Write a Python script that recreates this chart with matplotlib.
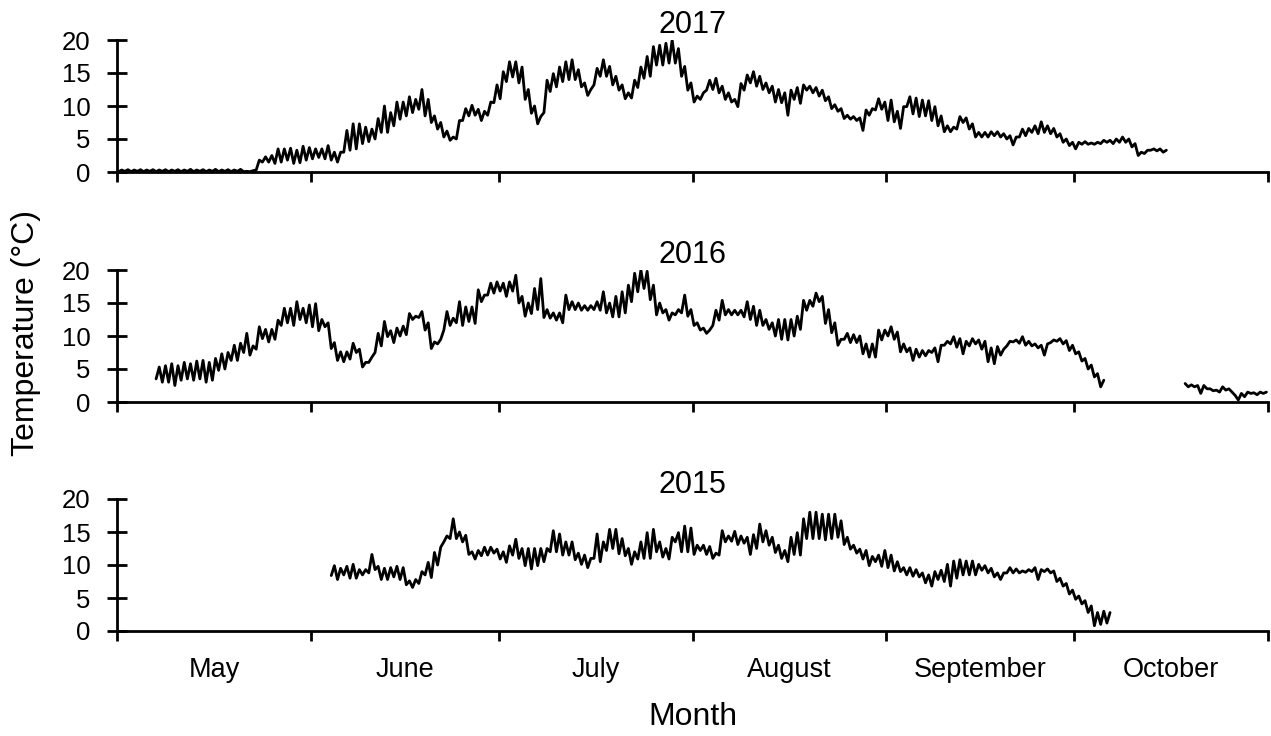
import numpy as np
import matplotlib
matplotlib.use("Agg")
import matplotlib.pyplot as plt

plt.rcParams['font.family'] = ['Liberation Sans', 'DejaVu Sans']

# ---- axis categories ----
months = ["May", "June", "July", "August", "September", "October"]
month_start_days = [0, 31, 61, 92, 123, 153, 184]   # days since 1 May
years = ["2017", "2016", "2015"]
y_ticks = [0, 5, 10, 15, 20]

# ---- daily minimum / maximum temperatures (deg C) ----
# 2017: first day = day 0 (1 May)
t2017_start = 0
t2017_min = [
    0.05, 0.1, 0.05, 0.1, 0.05, 0.1, 0.05, 0.1, 0.05, 0.1,
    0.05, 0.1, 0.05, 0.1, 0.05, 0.1, 0.05, 0.1, 0.05, 0.1,
    0.05, 0.05, 0.3, 1.5, 1.5, 1.3, 1.5, 1.8, 1.3, 1.4,
    1.8, 2.0, 2.2, 2.0, 1.8, 1.5, 3.0, 3.3, 3.5, 4.3,
    4.6, 5.0, 6.0, 6.0, 7.0, 8.0, 8.5, 9.0, 9.5, 8.5,
    7.5, 6.5, 5.3, 4.8, 5.0, 7.8, 8.5, 8.6, 7.8, 8.6,
    10.5, 11.1, 13.7, 14.4, 13.5, 11.0, 8.9, 7.3, 9.0, 12.2,
    12.9, 13.7, 14.0, 14.0, 12.9, 11.6, 13.2, 14.5, 14.5, 13.2,
    12.4, 11.1, 11.2, 12.8, 14.2, 14.5, 16.2, 16.2, 16.5, 16.5,
    14.5, 12.4, 10.6, 11.0, 12.4, 12.5, 12.0, 11.0, 10.6, 9.9,
    12.4, 13.5, 13.0, 12.5, 12.0, 10.6, 10.5, 8.6, 11.0, 10.4,
    12.4, 12.0, 11.5, 10.8, 9.6, 9.2, 8.1, 8.0, 7.8, 6.3,
    8.6, 9.4, 9.5, 7.8, 7.6, 6.6, 9.9, 8.8, 8.4, 8.5,
    7.8, 7.0, 6.1, 6.1, 6.5, 7.5, 6.5, 5.3, 5.3, 5.3,
    5.5, 5.3, 5.0, 4.1, 5.3, 5.5, 6.0, 5.8, 6.0, 5.8,
    5.3, 4.5, 4.0, 3.5, 4.2, 4.2, 4.2, 4.3, 4.5, 4.3,
    4.5, 4.5, 3.8, 2.5, 2.8, 3.3, 3.2, 3.0,
]
t2017_max = [
    0.3, 0.35, 0.3, 0.35, 0.3, 0.35, 0.3, 0.35, 0.3, 0.35,
    0.3, 0.4, 0.3, 0.35, 0.3, 0.4, 0.3, 0.35, 0.3, 0.4,
    0.1, 0.2, 1.8, 2.3, 2.5, 3.5, 3.5, 3.6, 3.3, 3.9,
    3.7, 3.5, 3.5, 4.0, 3.0, 3.0, 6.3, 7.3, 7.3, 6.8,
    6.5, 8.1, 10.0, 9.0, 10.6, 10.6, 11.4, 11.0, 12.5, 11.0,
    8.5, 7.5, 6.2, 5.3, 7.8, 9.6, 10.1, 9.5, 9.2, 10.6,
    13.2, 15.2, 16.7, 16.7, 15.9, 12.5, 10.0, 8.4, 13.9, 14.9,
    15.9, 16.7, 17.0, 15.5, 13.5, 12.5, 15.7, 17.0, 16.0, 14.5,
    13.2, 12.0, 13.9, 15.9, 17.5, 19.0, 19.2, 19.5, 20.0, 18.7,
    16.0, 13.5, 11.5, 12.0, 13.9, 14.2, 13.0, 12.0, 11.0, 13.4,
    14.7, 15.2, 14.5, 13.5, 13.0, 12.5, 12.0, 12.4, 12.8, 13.2,
    13.0, 12.8, 12.4, 11.4, 10.2, 9.6, 8.6, 8.4, 8.2, 9.4,
    9.6, 11.1, 10.6, 10.9, 9.2, 9.9, 11.4, 11.2, 10.9, 10.8,
    9.9, 8.5, 7.0, 6.8, 8.4, 8.2, 7.3, 6.0, 6.0, 6.1,
    6.1, 5.8, 5.5, 5.3, 6.5, 6.6, 7.0, 7.6, 7.0, 6.6,
    5.8, 5.0, 4.5, 4.5, 4.6, 4.4, 4.5, 4.8, 4.8, 5.0,
    5.3, 5.0, 4.3, 3.0, 3.3, 3.5, 3.5, 3.3,
]

# 2016: first day = day 6 (7 May); None = no record
t2016_start = 6
t2016_min = [
    3.5, 3.0, 3.0, 2.5,
    3.3, 3.5, 3.3, 3.5, 3.0, 3.3, 4.8, 5.0, 6.3, 6.3,
    7.5, 7.1, 8.0, 9.6, 9.1, 9.5, 11.6, 12.0, 11.6, 12.5,
    12.0, 11.4, 10.8, 11.4, 8.1, 6.3, 6.1, 6.5, 7.5, 5.3,
    6.0, 7.5, 8.5, 9.9, 9.0, 10.0, 10.2, 12.5, 12.8, 10.9,
    8.1, 8.8, 10.9, 11.6, 12.0, 11.6, 12.2, 11.9, 15.2, 16.2,
    16.5, 16.8, 16.0, 16.8, 15.0, 13.0, 13.4, 14.0, 12.8, 12.7,
    12.4, 12.0, 14.0, 14.0, 13.9, 13.9, 14.0, 13.9, 13.5, 12.9,
    12.9, 13.5, 15.2, 16.7, 17.2, 15.5, 13.2, 13.5, 12.4, 13.2,
    13.5, 13.0, 11.6, 10.9, 10.4, 11.6, 12.4, 13.2, 13.2, 13.2,
    12.9, 12.5, 11.6, 11.6, 11.0, 10.0, 9.5, 9.4, 10.0, 11.0,
    13.9, 14.5, 15.2, 11.9, 10.5, 8.6, 9.5, 9.0, 9.0, 7.3,
    6.8, 6.8, 9.4, 10.0, 9.5, 7.6, 7.6, 6.3, 6.8, 7.0,
    7.5, 6.1, 8.6, 8.8, 8.3, 7.3, 8.5, 8.8, 8.0, 6.1,
    5.8, 7.1, 8.5, 9.1, 8.9, 8.6, 8.5, 8.2, 7.1, 9.0,
    9.2, 8.8, 7.8, 7.3, 6.2, 5.0, 3.8, 2.3, None, None,
    None, None, None, None, None, None, None, None, None, None,
    None, 2.3, 2.3, 1.3, 2.0, 1.7, 1.5, 1.8, 1.5, 0.3,
    0.8, 1.3, 1.1, 1.3,
]
t2016_max = [
    5.3, 5.5, 5.8, 5.5,
    6.0, 5.8, 6.2, 6.3, 6.0, 6.6, 7.3, 7.5, 8.6, 8.9,
    10.4, 8.5, 11.4, 11.0, 11.0, 12.4, 14.2, 14.2, 15.2, 14.2,
    14.7, 14.9, 12.5, 12.0, 9.0, 7.6, 7.6, 8.9, 8.0, 6.0,
    6.8, 10.4, 12.2, 10.8, 11.2, 11.5, 13.4, 13.0, 13.7, 12.0,
    9.1, 9.5, 13.7, 12.7, 15.2, 14.4, 14.4, 17.0, 16.2, 18.0,
    18.2, 18.0, 18.2, 19.2, 16.0, 15.0, 17.2, 18.7, 14.0, 13.5,
    13.5, 16.2, 15.2, 15.0, 14.6, 14.6, 15.2, 16.7, 15.0, 16.0,
    16.7, 17.7, 19.5, 20.0, 19.8, 17.7, 15.0, 14.0, 13.5, 14.0,
    16.2, 14.0, 12.0, 11.2, 10.9, 13.9, 15.4, 14.0, 13.9, 13.9,
    15.2, 14.5, 13.9, 12.5, 12.0, 12.5, 12.5, 12.5, 13.0, 15.4,
    15.4, 16.5, 16.0, 14.0, 12.0, 9.5, 10.4, 10.2, 10.0, 8.8,
    8.8, 10.9, 10.9, 11.4, 10.6, 8.8, 8.2, 8.0, 7.8, 7.8,
    8.2, 8.6, 9.2, 9.9, 9.6, 9.2, 9.6, 9.4, 9.2, 8.2,
    8.4, 8.0, 9.2, 9.4, 9.9, 9.2, 8.8, 8.6, 8.8, 9.4,
    9.6, 9.3, 8.6, 7.6, 6.6, 5.6, 4.3, 3.3, None, None,
    None, None, None, None, None, None, None, None, None, None,
    2.8, 2.6, 2.5, 2.5, 2.0, 1.8, 2.3, 2.0, 1.0, 1.3,
    1.5, 1.4, 1.5, 1.5,
]

# 2015: first day = day 34 (3 June)
t2015_start = 34
t2015_min = [
    8.4, 7.8, 8.5, 8.0, 8.0, 8.5,
    8.8, 9.3, 7.8, 7.8, 8.2, 7.8, 7.0, 6.6, 7.2, 8.5,
    8.1, 10.0, 13.5, 14.0, 14.0, 13.5, 11.6, 10.9, 11.4, 11.5,
    11.8, 10.9, 10.4, 11.5, 11.0, 9.9, 9.4, 9.9, 10.5, 12.0,
    12.0, 11.5, 11.5, 10.8, 10.1, 9.6, 11.0, 10.5, 12.2, 12.5,
    11.7, 11.4, 10.1, 10.9, 11.0, 11.0, 12.0, 11.2, 10.9, 13.5,
    12.0, 12.0, 11.6, 12.2, 11.6, 11.0, 11.5, 13.5, 13.6, 13.1,
    13.3, 11.6, 12.5, 13.5, 13.0, 11.9, 11.0, 10.5, 11.6, 11.5,
    14.0, 14.0, 14.0, 13.8, 14.0, 14.2, 13.1, 12.4, 11.8, 10.9,
    9.9, 10.5, 9.8, 9.6, 9.1, 9.0, 8.5, 8.3, 8.2, 7.3,
    6.8, 7.8, 7.5, 6.8, 8.0, 8.5, 8.5, 8.5, 9.2, 8.8,
    8.2, 7.8, 8.8, 8.8, 8.8, 8.9, 9.0, 7.8, 9.0, 8.8,
    7.5, 6.8, 5.6, 4.8, 4.1, 2.8, 0.8, 1.0, 1.2,
]
t2015_max = [
    9.9, 9.5, 9.8, 10.1, 9.3, 9.3,
    11.6, 9.8, 9.5, 9.6, 9.8, 9.6, 7.6, 7.8, 9.0, 10.4,
    11.9, 12.7, 14.4, 17.0, 15.0, 14.5, 12.0, 12.2, 12.7, 12.7,
    12.4, 12.0, 12.9, 13.9, 12.5, 12.5, 12.5, 12.5, 12.5, 15.2,
    14.7, 13.5, 13.5, 11.8, 11.5, 11.0, 14.7, 13.5, 15.4, 15.4,
    14.0, 12.5, 12.0, 13.5, 14.9, 15.4, 13.5, 12.5, 14.2, 14.9,
    15.9, 15.6, 13.0, 13.0, 12.8, 11.8, 15.2, 14.4, 15.1, 14.4,
    14.2, 14.6, 16.2, 15.2, 14.2, 13.0, 12.2, 14.2, 14.9, 17.0,
    18.0, 18.0, 17.7, 17.7, 17.7, 16.7, 14.2, 13.0, 12.4, 12.2,
    11.3, 11.5, 12.2, 11.5, 10.5, 9.6, 9.6, 9.3, 8.8, 8.5,
    9.0, 9.2, 10.1, 10.6, 10.8, 10.6, 10.6, 10.1, 9.9, 9.5,
    8.8, 8.8, 9.6, 9.4, 9.1, 9.3, 9.6, 9.3, 9.4, 9.1,
    8.0, 7.2, 6.2, 5.3, 4.6, 3.8, 2.8, 3.0, 2.8,
]


def daily_series(start, mins, maxs):
    """Place each day's minimum early in the day and its maximum in the afternoon."""
    t, v = [], []
    for i, (lo, hi) in enumerate(zip(mins, maxs)):
        d = start + i
        t.extend([d + 0.25, d + 0.75])
        v.extend([np.nan if lo is None else lo, np.nan if hi is None else hi])
    return np.array(t), np.array(v, dtype=float)


series = {
    "2017": daily_series(t2017_start, t2017_min, t2017_max),
    "2016": daily_series(t2016_start, t2016_min, t2016_max),
    "2015": daily_series(t2015_start, t2015_min, t2015_max),
}

W, H = 1271, 736
fig = plt.figure(figsize=(W / 100, H / 100), dpi=100)

left = 117 / W
width = (1268 - 117) / W
height = 132 / H
tops_px = [40, 270, 499]

month_mid = [(a + b) / 2 for a, b in zip(month_start_days[:-1], month_start_days[1:])]

for k, (yr, top) in enumerate(zip(years, tops_px)):
    bottom = 1 - (top + 132) / H
    ax = fig.add_axes([left, bottom, width, height])
    t, v = series[yr]
    ax.plot(t, v, color="black", lw=2.0, solid_joinstyle="round",
            solid_capstyle="round")
    ax.set_xlim(month_start_days[0], month_start_days[-1])
    ax.set_ylim(0, 20)
    ax.set_yticks(y_ticks)
    ax.set_xticks(month_start_days)
    ax.set_xticks(month_mid, minor=True)
    ax.spines["top"].set_visible(False)
    ax.spines["right"].set_visible(False)
    for s in ("left", "bottom"):
        ax.spines[s].set_linewidth(2.0)
    ax.tick_params(axis="y", direction="inout", length=14, width=2.0,
                   labelsize=18.5, pad=12)
    ax.tick_params(axis="x", which="major", direction="out", length=7,
                   width=2.0, labelbottom=False)
    if k == 2:
        ax.set_xticklabels(months, minor=True)
        ax.tick_params(axis="x", which="minor", length=0, labelsize=19.5, pad=19)
    else:
        ax.tick_params(axis="x", which="minor", length=0, labelbottom=False)
    ax.set_title(yr, fontsize=22, pad=4)
    ax.patch.set_alpha(0)

fig.text(26 / W, 1 - 333 / H, "Temperature (°C)", rotation=90,
         ha="center", va="center", fontsize=23)
fig.text(693 / W, 1 - 717 / H, "Month", ha="center", va="center", fontsize=23)

fig.savefig("out.png", dpi=100)
